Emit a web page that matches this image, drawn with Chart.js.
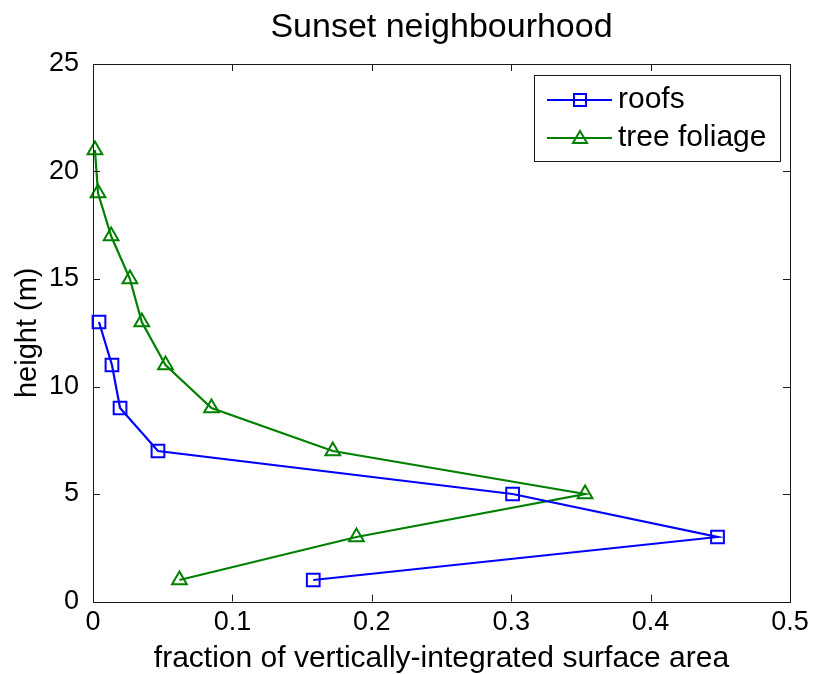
<!DOCTYPE html>
<html>
<head>
<meta charset="utf-8">
<title>Sunset neighbourhood</title>
<script src="https://cdn.jsdelivr.net/npm/chart.js@4.4.0/dist/chart.umd.min.js"></script>
<style>
  html, body { margin: 0; padding: 0; background: #fff; }
  canvas { display: block; }
</style>
</head>
<body>
<canvas id="profileChart" width="814" height="674"></canvas>
<script>
// data
const roofHeights = [1, 3, 5, 7, 9, 11, 13];
const roofFraction = [0.158, 0.448, 0.301, 0.0466, 0.0194, 0.0136, 0.0043];
const foliageHeights = [1, 3, 5, 7, 9, 11, 13, 15, 17, 19, 21];
const foliageFraction = [0.062, 0.189, 0.353, 0.172, 0.085, 0.052, 0.035, 0.0265, 0.013, 0.0036, 0.0014];
const xTicks = [0, 0.1, 0.2, 0.3, 0.4, 0.5];
const yTicks = [0, 5, 10, 15, 20, 25];

const FONT = '"Liberation Sans", Arial, sans-serif';

const toPoints = (xs, ys) => xs.map((x, i) => ({ x: x, y: ys[i] }));

// Box, inward tick marks, title and legend, MATLAB style
const matlabFrame = {
    id: 'matlabFrame',
    afterDatasetsDraw(chart) {
        const { ctx, chartArea: a, scales } = chart;
        const len = 7;
        ctx.save();
        ctx.strokeStyle = '#1a1a1a';
        ctx.lineWidth = 1;
        ctx.beginPath();
        xTicks.forEach(v => {
            const px = Math.round(scales.x.getPixelForValue(v)) + 0.5;
            ctx.moveTo(px, a.bottom); ctx.lineTo(px, a.bottom - len);
            ctx.moveTo(px, a.top); ctx.lineTo(px, a.top + len);
        });
        yTicks.forEach(v => {
            const py = Math.round(scales.y.getPixelForValue(v)) + 0.5;
            ctx.moveTo(a.left, py); ctx.lineTo(a.left + len, py);
            ctx.moveTo(a.right, py); ctx.lineTo(a.right - len, py);
        });
        ctx.stroke();
        ctx.strokeRect(Math.round(a.left) + 0.5, Math.round(a.top) + 0.5,
            Math.round(a.right - a.left), Math.round(a.bottom - a.top));

        // title
        ctx.fillStyle = '#000';
        ctx.font = '34px ' + FONT;
        ctx.textAlign = 'center';
        ctx.textBaseline = 'middle';
        ctx.fillText('Sunset neighbourhood', (a.left + a.right) / 2, 28);

        // legend
        const lx = 534, ly = 75, lw = 246, lh = 86;
        ctx.fillStyle = '#fff';
        ctx.fillRect(lx, ly, lw, lh);
        ctx.strokeStyle = '#1a1a1a';
        ctx.strokeRect(lx + 0.5, ly + 0.5, lw, lh);
        chart.data.datasets.forEach((ds, i) => {
            const y = 100 + i * 38;
            ctx.strokeStyle = ds.borderColor;
            ctx.lineWidth = 2;
            ctx.beginPath();
            ctx.moveTo(547, y); ctx.lineTo(612, y);
            ctx.stroke();
            ctx.beginPath();
            if (ds.pointStyle === 'rect') {
                ctx.rect(574, y - 6, 12, 12);
            } else {
                ctx.moveTo(580, y - 7); ctx.lineTo(587, y + 5); ctx.lineTo(573, y + 5); ctx.closePath();
            }
            ctx.stroke();
            ctx.fillStyle = '#000';
            ctx.font = '30px ' + FONT;
            ctx.textAlign = 'left';
            ctx.fillText(ds.label, 618, y);
        });
        ctx.restore();
    }
};

const ctx = document.getElementById('profileChart').getContext('2d');
new Chart(ctx, {
    type: 'scatter',
    data: {
        datasets: [{
            label: 'roofs',
            data: toPoints(roofFraction, roofHeights),
            showLine: true,
            borderColor: '#0000ff',
            borderWidth: 2.2,
            pointStyle: 'rect',
            pointRadius: 9,
            pointBorderWidth: 2,
            pointBackgroundColor: 'rgba(0,0,0,0)',
            pointBorderColor: '#0000ff',
            clip: false
        }, {
            label: 'tree foliage',
            data: toPoints(foliageFraction, foliageHeights),
            showLine: true,
            borderColor: '#008000',
            borderWidth: 2.2,
            pointStyle: 'triangle',
            pointRadius: 8.5,
            pointBorderWidth: 2,
            pointBackgroundColor: 'rgba(0,0,0,0)',
            pointBorderColor: '#008000',
            clip: false
        }]
    },
    options: {
        responsive: false,
        animation: false,
        layout: { padding: { top: 64, right: 24, left: 0, bottom: 0 } },
        plugins: {
            legend: { display: false },
            title: { display: false },
            tooltip: { enabled: false }
        },
        scales: {
            x: {
                type: 'linear',
                min: 0, max: 0.5,
                afterBuildTicks: s => { s.ticks = xTicks.map(v => ({ value: v })); },
                afterFit: s => { s.height = 72.5; },
                grid: { display: false },
                border: { display: false },
                ticks: {
                    color: '#000',
                    padding: -3,
                    font: { family: FONT, size: 27 },
                    callback: v => String(v)
                },
                title: {
                    display: true,
                    text: 'fraction of vertically-integrated surface area',
                    color: '#000',
                    font: { family: FONT, size: 30, lineHeight: 1 },
                    padding: 0
                }
            },
            y: {
                type: 'linear',
                min: 0, max: 25,
                afterBuildTicks: s => { s.ticks = yTicks.map(v => ({ value: v })); },
                afterFit: s => { s.width = 93; },
                grid: { display: false },
                border: { display: false },
                ticks: {
                    color: '#000',
                    padding: 6,
                    font: { family: FONT, size: 27 },
                    callback: v => String(v)
                },
                title: {
                    display: true,
                    text: 'height (m)',
                    color: '#000',
                    font: { family: FONT, size: 29, lineHeight: 1 },
                    padding: { top: 13, bottom: 0 }
                }
            }
        }
    },
    plugins: [matlabFrame]
});
</script>
</body>
</html>
